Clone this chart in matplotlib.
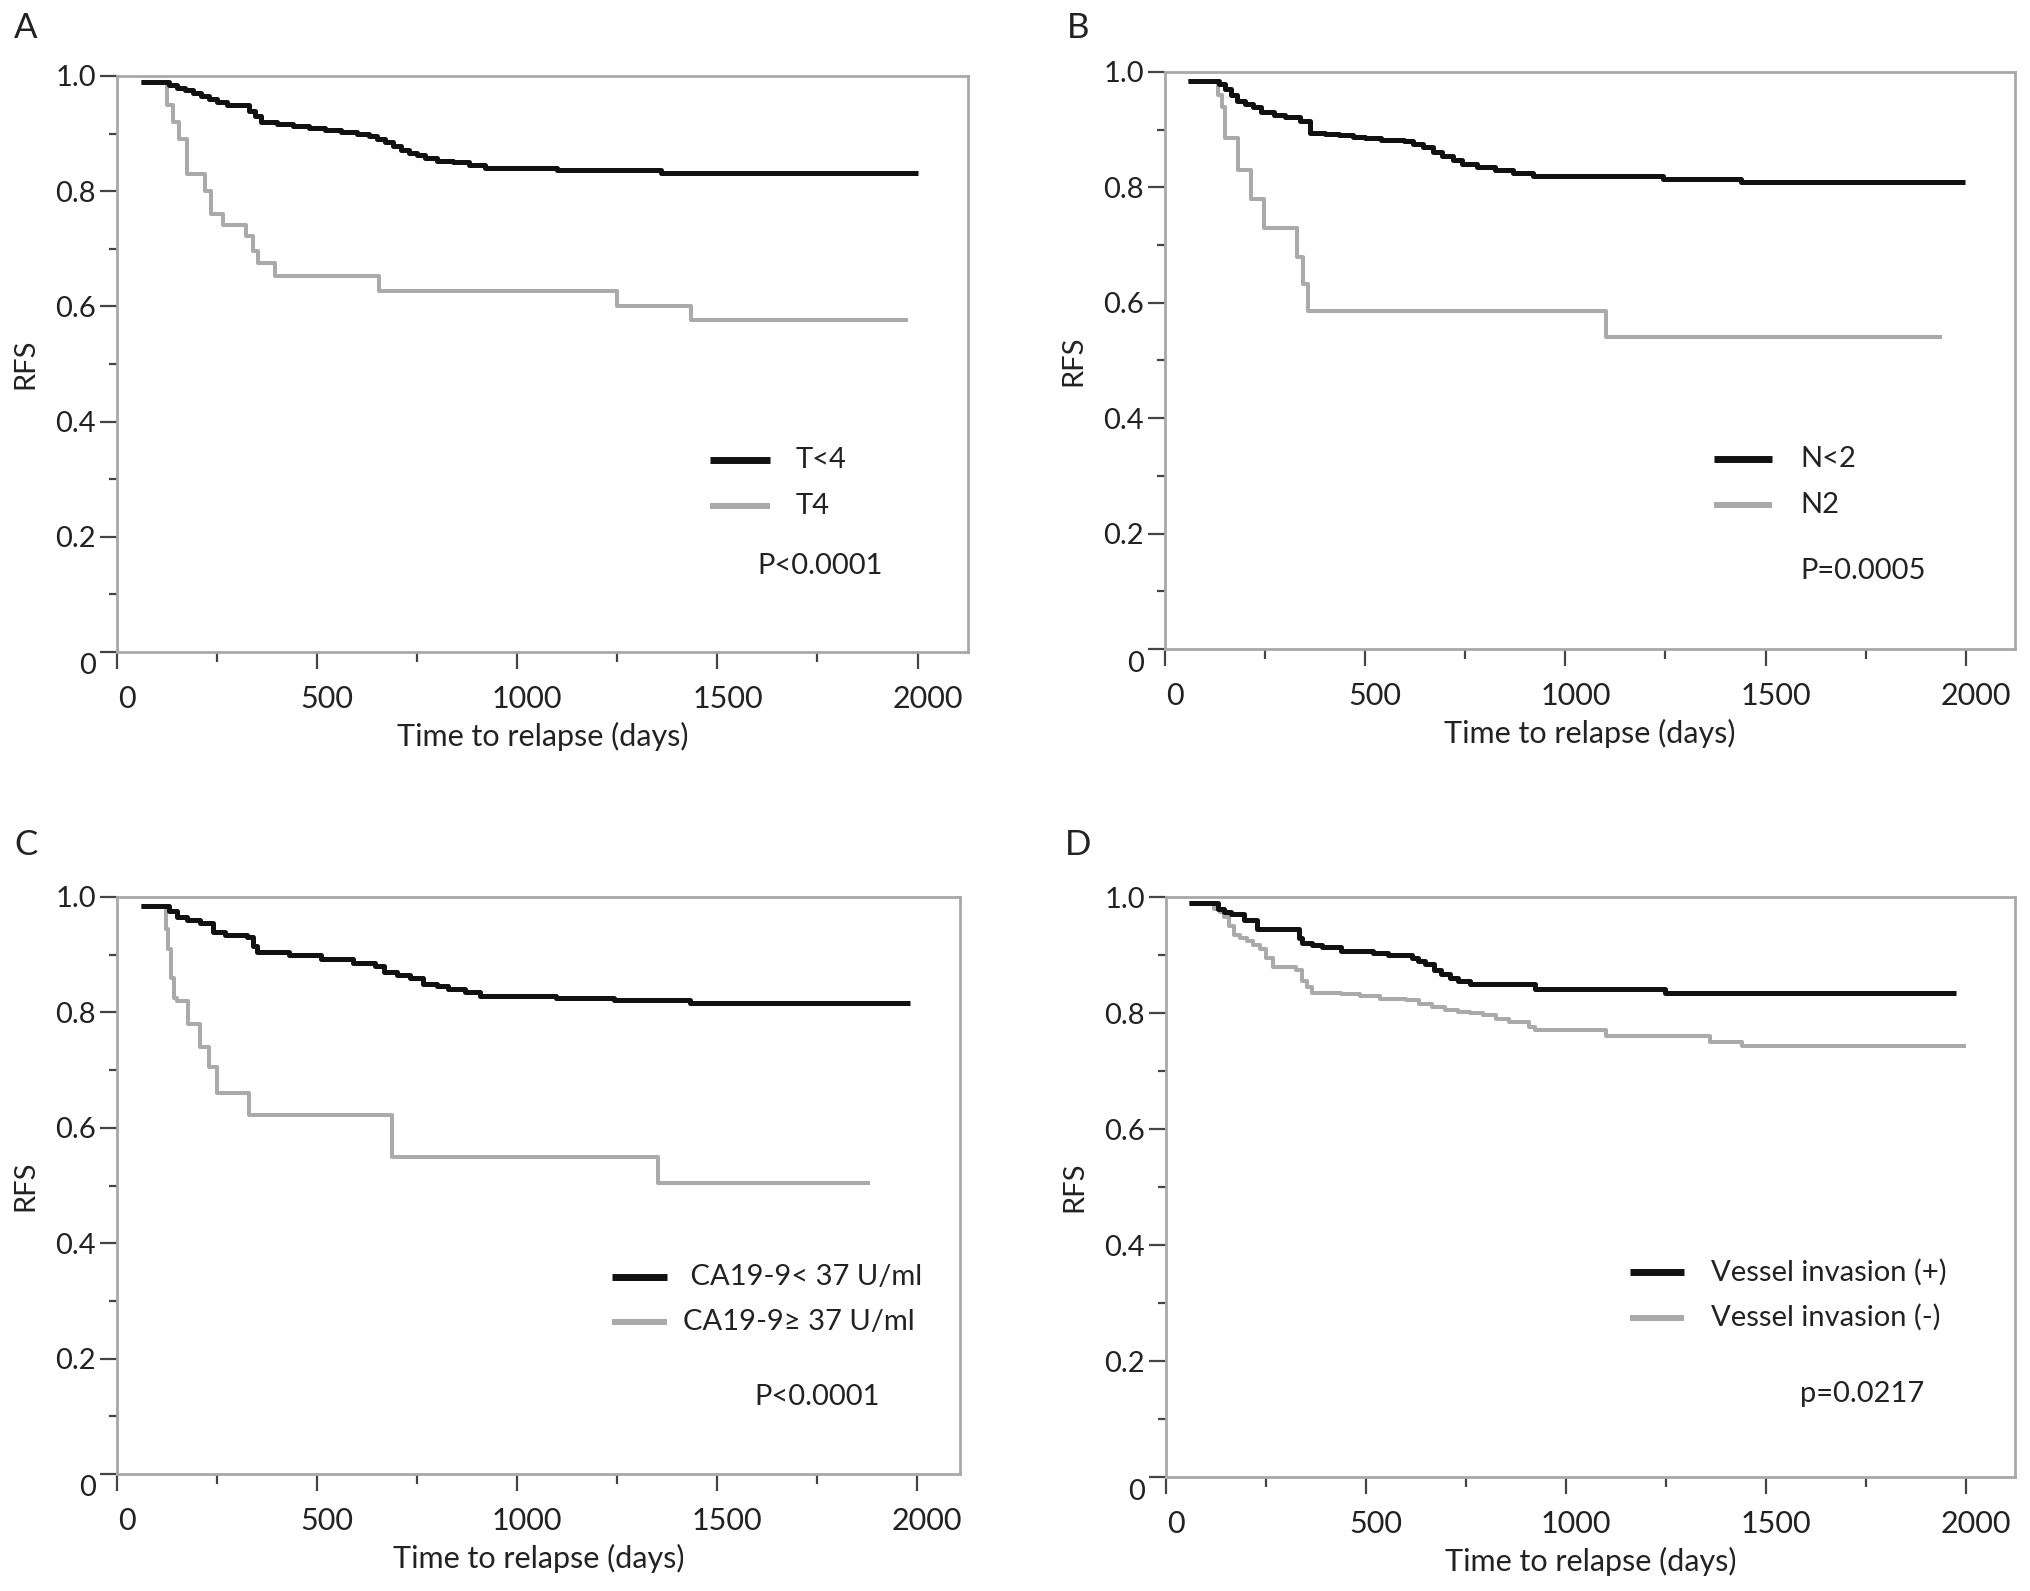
import matplotlib
matplotlib.use("Agg")
import matplotlib.pyplot as plt
from matplotlib.ticker import MultipleLocator
from matplotlib.transforms import ScaledTranslation

plt.rcParams['font.family'] = ['Lato', 'DejaVu Sans']

# ---------------- data ----------------
# Panel A
a_black_t = [60, 130, 150, 170, 190, 210, 230, 250, 275, 330, 345, 360, 400, 440, 480, 520, 560,
             600, 630, 650, 670, 690, 710, 730, 750, 770, 800, 840, 880, 920, 1100, 1360, 2000]
a_black_s = [0.99, 0.985, 0.98, 0.975, 0.97, 0.965, 0.96, 0.955, 0.95, 0.94, 0.93, 0.92, 0.917,
             0.913, 0.91, 0.907, 0.903, 0.90, 0.895, 0.89, 0.885, 0.878, 0.872, 0.867, 0.862,
             0.857, 0.853, 0.85, 0.846, 0.84, 0.836, 0.832, 0.832]
a_gray_t = [60, 125, 140, 155, 175, 220, 236, 265, 322, 340, 352, 395, 655, 1250, 1435, 1975]
a_gray_s = [0.99, 0.95, 0.92, 0.89, 0.83, 0.80, 0.76, 0.742, 0.722, 0.696, 0.675, 0.653, 0.627,
            0.60, 0.577, 0.577]

# Panel B
b_black_t = [58, 134, 150, 165, 180, 200, 220, 240, 272, 300, 337, 361, 400, 434, 470, 499, 540,
             596, 620, 645, 670, 693, 720, 742, 780, 823, 870, 920, 1244, 1438, 1997]
b_black_s = [0.985, 0.98, 0.97, 0.96, 0.95, 0.945, 0.94, 0.93, 0.925, 0.922, 0.915, 0.895, 0.893,
             0.89, 0.887, 0.885, 0.882, 0.88, 0.875, 0.87, 0.862, 0.855, 0.848, 0.84, 0.835,
             0.83, 0.825, 0.82, 0.815, 0.81, 0.81]
b_gray_t = [58, 133, 143, 151, 183, 215, 248, 329, 345, 356, 1101, 1940]
b_gray_s = [0.985, 0.96, 0.94, 0.885, 0.83, 0.78, 0.73, 0.68, 0.633, 0.585, 0.54, 0.54]

# Panel C
c_black_t = [60, 130, 150, 175, 207, 239, 270, 326, 340, 350, 430, 509, 589, 644, 668, 700, 732,
             764, 800, 827, 870, 907, 1098, 1241, 1432, 1981]
c_black_s = [0.985, 0.975, 0.965, 0.96, 0.955, 0.94, 0.935, 0.93, 0.915, 0.905, 0.9, 0.892, 0.885,
             0.88, 0.87, 0.865, 0.86, 0.85, 0.845, 0.84, 0.835, 0.828, 0.825, 0.822, 0.816, 0.816]
c_gray_t = [60, 122, 128, 135, 143, 150, 178, 207, 231, 251, 331, 687, 1352, 1882]
c_gray_s = [0.985, 0.945, 0.91, 0.86, 0.825, 0.82, 0.78, 0.74, 0.705, 0.66, 0.622, 0.55, 0.505,
            0.505]

# Panel D
d_black_t = [57, 130, 146, 162, 194, 227, 332, 340, 365, 389, 437, 518, 555, 615, 630, 648, 670,
             688, 710, 729, 761, 923, 1247, 1976]
d_black_s = [0.99, 0.98, 0.975, 0.97, 0.96, 0.945, 0.93, 0.92, 0.917, 0.913, 0.907, 0.904, 0.90,
             0.895, 0.89, 0.884, 0.875, 0.867, 0.86, 0.856, 0.85, 0.842, 0.835, 0.835]
d_gray_t = [57, 121, 135, 146, 158, 170, 186, 202, 218, 235, 251, 267, 324, 340, 352, 364, 437,
            486, 534, 599, 632, 664, 697, 729, 761, 793, 826, 858, 907, 923, 1101, 1360, 1441, 2000]
d_gray_s = [0.99, 0.98, 0.975, 0.965, 0.95, 0.935, 0.93, 0.925, 0.918, 0.91, 0.895, 0.88, 0.875,
            0.855, 0.845, 0.835, 0.833, 0.83, 0.825, 0.823, 0.816, 0.81, 0.806, 0.802, 0.8, 0.796,
            0.79, 0.785, 0.776, 0.77, 0.76, 0.75, 0.743, 0.743]

panel_letters = ["A", "B", "C", "D"]
legend_labels = [["T<4", "T4"], ["N<2", "N2"],
                 [" CA19-9< 37 U/ml", "CA19-9\u2265 37 U/ml"],
                 ["Vessel invasion (+)", "Vessel invasion (-)"]]
p_texts = ["P<0.0001", "P=0.0005", "P<0.0001", "p=0.0217"]
x_ticks = [0, 500, 1000, 1500, 2000]
y_ticks = [0, 0.2, 0.4, 0.6, 0.8, 1.0]
y_ticklabels = ["0", "0.2", "0.4", "0.6", "0.8", "1.0"]

curves = [(a_black_t, a_black_s, a_gray_t, a_gray_s),
          (b_black_t, b_black_s, b_gray_t, b_gray_s),
          (c_black_t, c_black_s, c_gray_t, c_gray_s),
          (d_black_t, d_black_s, d_gray_t, d_gray_s)]

# ---------------- layout ----------------
W, H = 2031, 1591
fig = plt.figure(figsize=(W / 100, H / 100), dpi=100)
fig.patch.set_facecolor("white")

# axes boxes in pixels: left, top, right, bottom
boxes = [(117, 76, 968, 652), (1165, 72, 2015, 649),
         (117, 897, 960, 1474), (1166, 897, 2015, 1477)]
xmax = [2126, 2123, 2107, 2123]
letter_pos = [(26, 28), (1078, 28), (26, 845), (1078, 845)]
# legend placement (axes fraction): line start x, line end x, text x, y1, y2, p x, p y
leg = [(0.697, 0.767, 0.797, 0.333, 0.254, 0.753, 0.150),
       (0.646, 0.714, 0.748, 0.330, 0.250, 0.748, 0.135),
       (0.587, 0.653, 0.672, 0.342, 0.263, 0.756, 0.133),
       (0.546, 0.610, 0.642, 0.353, 0.275, 0.747, 0.143)]

BLACK = "#111111"
GRAY = "#aaaaaa"
SPINE = "#a8a8a8"
TXT = "#222222"
FS = 21

for i in range(4):
    l, t, r, b = boxes[i]
    ax = fig.add_axes([l / W, 1 - b / H, (r - l) / W, (b - t) / H])
    bt, bs, gt, gs = curves[i]
    ax.plot(gt, gs, drawstyle="steps-post", color=GRAY, lw=2.9, solid_capstyle="butt")
    ax.plot(bt, bs, drawstyle="steps-post", color=BLACK, lw=3.6, solid_capstyle="butt")
    ax.set_xlim(0, xmax[i])
    ax.set_ylim(0, 1.0)
    ax.set_xticks(x_ticks)
    ax.xaxis.set_minor_locator(MultipleLocator(250))
    ax.set_yticks(y_ticks)
    ax.set_yticklabels(y_ticklabels)
    ax.yaxis.set_minor_locator(MultipleLocator(0.1))
    for s in ax.spines.values():
        s.set_color(SPINE)
        s.set_linewidth(2.0)
    ax.tick_params(which="both", direction="out", color="#444444", width=1.6,
                   labelcolor=TXT)
    ax.tick_params(axis="x", which="major", length=12, pad=12, labelsize=22)
    ax.tick_params(axis="x", which="minor", length=7)
    ax.tick_params(axis="y", which="major", length=12, pad=3, labelsize=21)
    ax.tick_params(axis="y", which="minor", length=6)
    for lab in ax.get_xticklabels():
        lab.set_transform(lab.get_transform() + ScaledTranslation(0.10, 0, fig.dpi_scale_trans))
    ylabs = ax.get_yticklabels()
    ylabs[0].set_transform(ylabs[0].get_transform() +
                           ScaledTranslation(0, -0.12, fig.dpi_scale_trans))
    ax.set_xlabel("Time to relapse (days)", fontsize=22, color=TXT, labelpad=6)
    ax.set_ylabel("RFS", fontsize=21, color=TXT, labelpad=12)

    x0, x1, xt, y1, y2, px, py = leg[i]
    ax.plot([x0, x1], [y1, y1], transform=ax.transAxes, color=BLACK, lw=5.0,
            solid_capstyle="butt")
    ax.plot([x0, x1], [y2, y2], transform=ax.transAxes, color=GRAY, lw=4.3,
            solid_capstyle="butt")
    ax.text(xt, y1, legend_labels[i][0], transform=ax.transAxes, fontsize=FS, color=TXT,
            va="center", ha="left")
    ax.text(xt, y2, legend_labels[i][1], transform=ax.transAxes, fontsize=FS, color=TXT,
            va="center", ha="left")
    ax.text(px, py, p_texts[i], transform=ax.transAxes, fontsize=FS, color=TXT,
            va="center", ha="left")

    fig.text(letter_pos[i][0] / W, 1 - letter_pos[i][1] / H, panel_letters[i], fontsize=25,
             color=TXT, ha="center", va="center")

fig.savefig("out.png", dpi=100, facecolor="white")
